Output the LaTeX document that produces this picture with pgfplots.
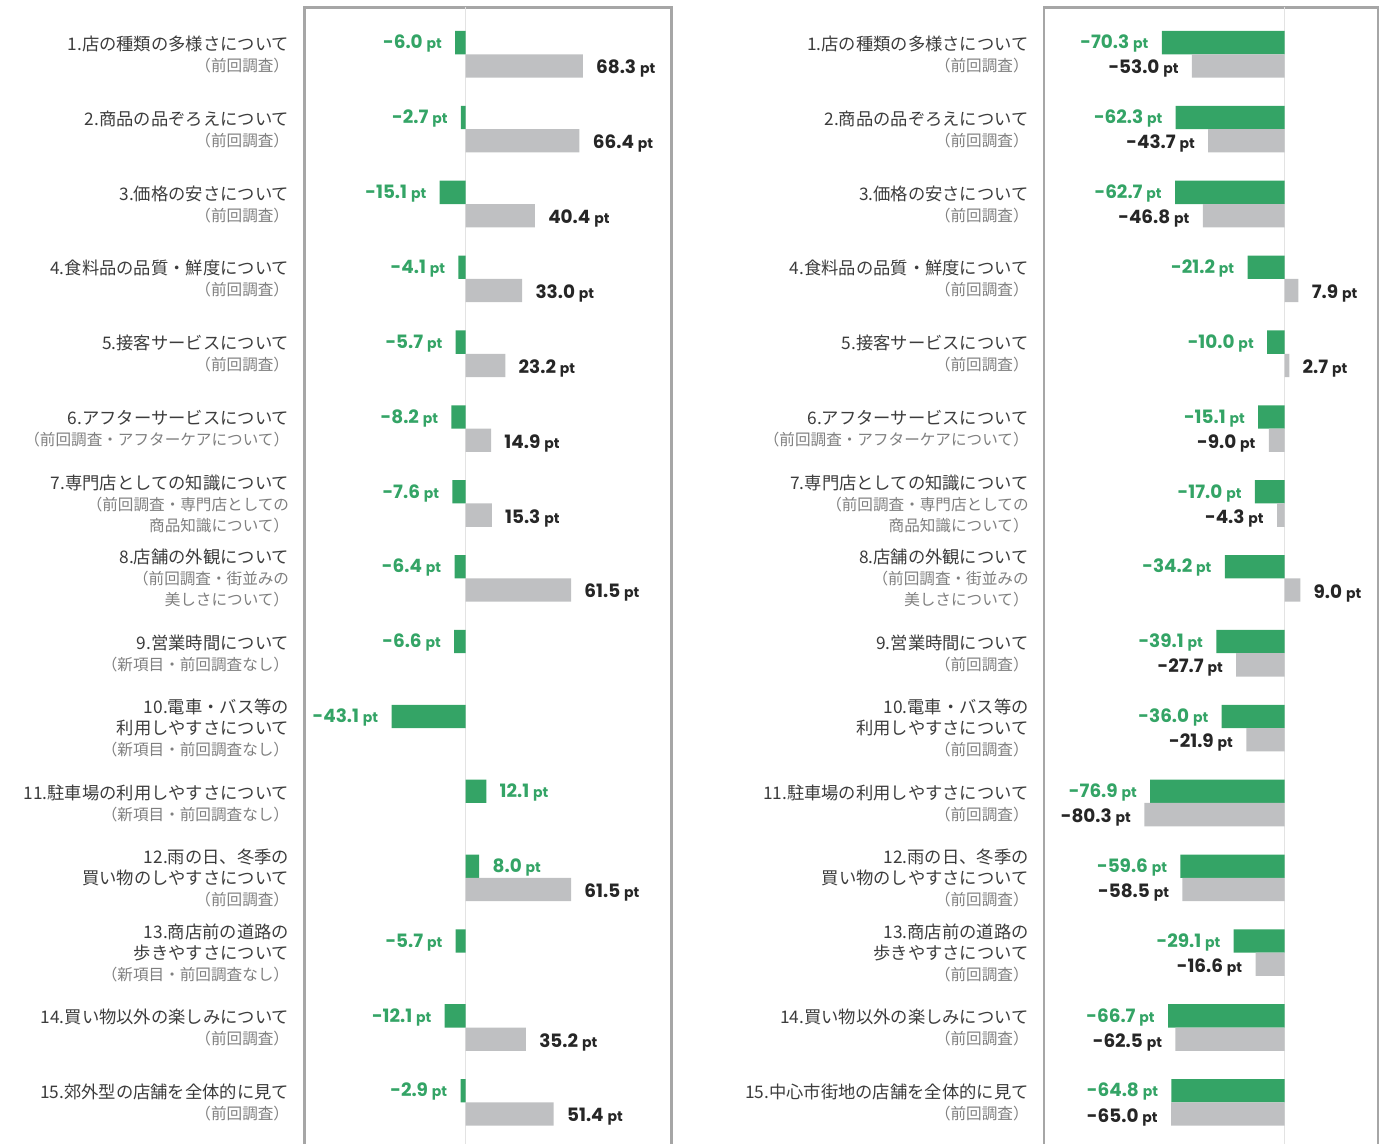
\documentclass[border=0pt]{standalone}
\usepackage{pgfplots}
\pgfplotsset{compat=1.18}
\usepackage{fontspec}
\setmainfont{Noto Sans CJK JP}
\newfontfamily\numfont{Poppins}
\definecolor{bargreen}{HTML}{34A466}
\definecolor{bargray}{HTML}{BFC0C2}
\definecolor{framegray}{HTML}{A6A6A6}
\definecolor{zerogray}{HTML}{E3E3E3}
\definecolor{labdark}{HTML}{3C3C3C}
\definecolor{labsub}{HTML}{7F7F7F}
\definecolor{valdark}{HTML}{262626}
\newcommand{\sub}[1]{{\color{labsub}\fontsize{7.8}{9}\selectfont #1}}
\pgfplotsset{
  panel/.style={
    xbar, scale only axis, anchor=north west,
    height=577.4pt, ymin=0.2, ymax=15.625,
    axis line style={framegray, line width=1.2pt},
    xtick=\empty,
    ytick={15,14,13,12,11,10,9,8,7,6,5,4,3,2,1},
    major tick length=0pt,
    extra x ticks={0}, extra x tick labels={},
    extra x tick style={grid=major, major grid style={zerogray, line width=0.9pt}},
    yticklabel style={align=right, anchor=east, inner sep=0pt, xshift=-7.5pt,
      font=\fontsize{8.65}{10.5}\selectfont, text=labdark},
    bar width=11.65pt,
    clip=false,
    nodes near coords={\pgfmathprintnumber[fixed,fixed zerofill,precision=1,assume math mode=true]{\pgfplotspointmeta}\ {\fontsize{7}{7}\selectfont pt}},
    nodes near coords align=horizontal,
    every node near coord/.append style={font=\numfont\bfseries\fontsize{9.2}{9.2}\selectfont, inner xsep=6.5pt, inner ysep=0pt},
  },
  greenbar/.style={fill=bargreen, draw=none, bar shift=5.825pt,
    every node near coord/.append style={text=bargreen, yshift=-0.6pt}},
  graybar/.style={fill=bargray, draw=none, bar shift=-5.825pt,
    every node near coord/.append style={text=valdark, yshift=-1.5pt}},
}
\begin{document}
\begin{tikzpicture}
\begin{axis}[panel, at={(152.25pt,-3.75pt)}, width=183.5pt, xmin=-93.8, xmax=120.0,
  yticklabels={
    {1.店の種類の多様さについて\\\sub{（前回調査）}},
    {2.商品の品ぞろえについて\\\sub{（前回調査）}},
    {3.価格の安さについて\\\sub{（前回調査）}},
    {4.食料品の品質・鮮度について\\\sub{（前回調査）}},
    {5.接客サービスについて\\\sub{（前回調査）}},
    {6.アフターサービスについて\\\sub{（前回調査・アフターケアについて）}},
    {7.専門店としての知識について\\\sub{（前回調査・専門店としての}\\\sub{商品知識について）}},
    {8.店舗の外観について\\\sub{（前回調査・街並みの}\\\sub{美しさについて）}},
    {9.営業時間について\\\sub{（新項目・前回調査なし）}},
    {10.電車・バス等の\\利用しやすさについて\\\sub{（新項目・前回調査なし）}},
    {11.駐車場の利用しやすさについて\\\sub{（新項目・前回調査なし）}},
    {12.雨の日、冬季の\\買い物のしやすさについて\\\sub{（前回調査）}},
    {13.商店前の道路の\\歩きやすさについて\\\sub{（新項目・前回調査なし）}},
    {14.買い物以外の楽しみについて\\\sub{（前回調査）}},
    {15.郊外型の店舗を全体的に見て\\\sub{（前回調査）}}
  }]
\addplot[greenbar] coordinates {
  (-6.0,15) (-2.7,14) (-15.1,13) (-4.1,12) (-5.7,11) (-8.2,10) (-7.6,9) (-6.4,8)
  (-6.6,7) (-43.1,6) (12.1,5) (8.0,4) (-5.7,3) (-12.1,2) (-2.9,1)};
\addplot[graybar] coordinates {
  (68.3,15) (66.4,14) (40.4,13) (33.0,12) (23.2,11) (14.9,10) (15.3,9) (61.5,8)
  (61.5,4) (35.2,2) (51.4,1)};
\end{axis}
\begin{axis}[panel, at={(522pt,-3.75pt)}, width=167pt, xmin=-137.7, xmax=53.5,
  yticklabels={
    {1.店の種類の多様さについて\\\sub{（前回調査）}},
    {2.商品の品ぞろえについて\\\sub{（前回調査）}},
    {3.価格の安さについて\\\sub{（前回調査）}},
    {4.食料品の品質・鮮度について\\\sub{（前回調査）}},
    {5.接客サービスについて\\\sub{（前回調査）}},
    {6.アフターサービスについて\\\sub{（前回調査・アフターケアについて）}},
    {7.専門店としての知識について\\\sub{（前回調査・専門店としての}\\\sub{商品知識について）}},
    {8.店舗の外観について\\\sub{（前回調査・街並みの}\\\sub{美しさについて）}},
    {9.営業時間について\\\sub{（前回調査）}},
    {10.電車・バス等の\\利用しやすさについて\\\sub{（前回調査）}},
    {11.駐車場の利用しやすさについて\\\sub{（前回調査）}},
    {12.雨の日、冬季の\\買い物のしやすさについて\\\sub{（前回調査）}},
    {13.商店前の道路の\\歩きやすさについて\\\sub{（前回調査）}},
    {14.買い物以外の楽しみについて\\\sub{（前回調査）}},
    {15.中心市街地の店舗を全体的に見て\\\sub{（前回調査）}}
  }]
\addplot[greenbar] coordinates {
  (-70.3,15) (-62.3,14) (-62.7,13) (-21.2,12) (-10.0,11) (-15.1,10) (-17.0,9) (-34.2,8)
  (-39.1,7) (-36.0,6) (-76.9,5) (-59.6,4) (-29.1,3) (-66.7,2) (-64.8,1)};
\addplot[graybar] coordinates {
  (-53.0,15) (-43.7,14) (-46.8,13) (7.9,12) (2.7,11) (-9.0,10) (-4.3,9) (9.0,8)
  (-27.7,7) (-21.9,6) (-80.3,5) (-58.5,4) (-16.6,3) (-62.5,2) (-65.0,1)};
\end{axis}
\pgfresetboundingbox
\path[use as bounding box] (0,0) rectangle (698.5pt,-572pt);
\end{tikzpicture}
\end{document}
